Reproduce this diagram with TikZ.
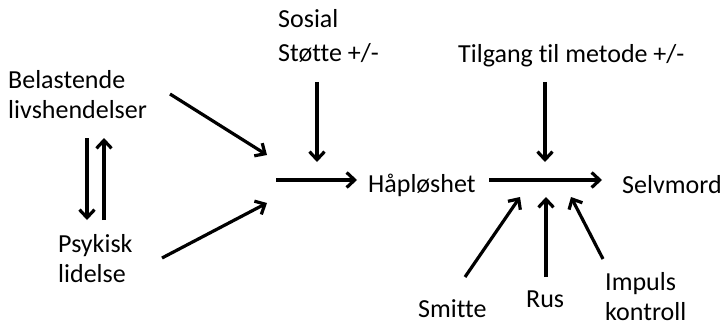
\documentclass[tikz,border=0pt]{standalone}
\usepackage{fontspec}
\setmainfont{Carlito}[Ligatures=NoCommon]
\usetikzlibrary{arrows.meta}
\begin{document}
\begin{tikzpicture}[x=1pt,y=-1pt,
  lbl/.style={inner sep=0pt, anchor=base west, align=left, font=\fontsize{26}{29}\selectfont},
  arr/.style={line width=3.2pt, -{Straight Barb[length=8pt,width=15pt]}}]
\useasboundingbox[fill=white] (0,0) rectangle (722,326);
% labels (anchor = baseline of last line)
\node[lbl] (bel) at (8,118) {Belastende\\livshendelser};
\node[lbl, font=\fontsize{26}{30}\selectfont] (psy) at (58,282) {Psykisk\\lidelse};
\node[lbl, font=\fontsize{26}{34}\selectfont] (sos) at (278,62) {Sosial\\Støtte +/-};
\node[lbl] (til) at (458,63) {Tilgang til metode +/-};
\node[lbl] (hap) at (368,192) {Håpløshet};
\node[lbl] (sel) at (622,193) {Selvmord};
\node[lbl] (smi) at (418,317) {Smitte};
\node[lbl] (rus) at (526,307) {Rus};
\node[lbl, font=\fontsize{26}{30}\selectfont] (imp) at (605,320) {Impuls\\kontroll};
% connector ends
\coordinate (belS) at (170,94);  \coordinate (belE) at (267,155);
\coordinate (psyS) at (162,258); \coordinate (psyE) at (267,203);
\coordinate (dnS) at (87,138);   \coordinate (dnE) at (87,220);
\coordinate (upS) at (104,220);  \coordinate (upE) at (104,138);
\coordinate (hapS) at (276,180); \coordinate (hapE) at (357,180);
\coordinate (sosS) at (317,82);  \coordinate (sosE) at (317,162);
\coordinate (tilS) at (545,82);  \coordinate (tilE) at (545,162);
\coordinate (selS) at (489,180); \coordinate (selE) at (602,180);
\coordinate (smiS) at (465,277); \coordinate (smiE) at (520,197);
\coordinate (rusS) at (546,277); \coordinate (rusE) at (546,197);
\coordinate (impS) at (603,259); \coordinate (impE) at (571,197);
% connectors
\draw[arr] (belS) -- (belE);
\draw[arr] (psyS) -- (psyE);
\draw[arr] (dnS) -- (dnE);
\draw[arr] (upS) -- (upE);
\draw[arr] (hapS) -- (hapE);
\draw[arr] (sosS) -- (sosE);
\draw[arr] (tilS) -- (tilE);
\draw[arr] (selS) -- (selE);
\draw[arr] (smiS) -- (smiE);
\draw[arr] (rusS) -- (rusE);
\draw[arr] (impS) -- (impE);
\end{tikzpicture}
\end{document}
